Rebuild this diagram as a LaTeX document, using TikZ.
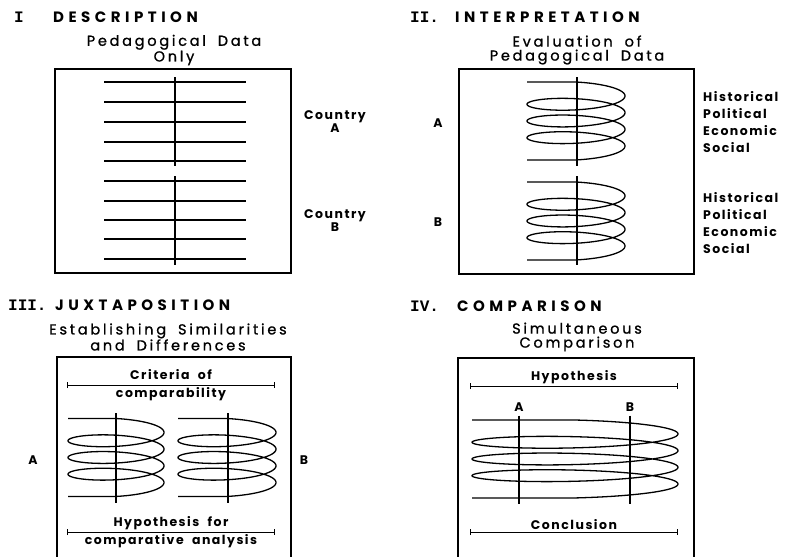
\documentclass[tikz,border=0pt]{standalone}
\usepackage{fontspec}
\setmainfont{Poppins}
\newfontfamily\numfont{Liberation Mono}
\newfontfamily\headfont[LetterSpace=30]{Poppins}
\newfontfamily\subfont[LetterSpace=19,WordSpace=1.8,FakeBold=1]{Poppins}
\newfontfamily\letfont[LetterSpace=12,WordSpace=2]{Poppins}
\usetikzlibrary{arrows.meta,positioning}

% helix: centre x, top line y, radius
\newcommand{\drawcoil}[3]{%
  \pgfmathsetmacro{\cyo}{#2-0.75*16.7+9.75}
  \draw[coil] (#1-#3,#2) -- (#1,#2)
    -- plot[domain=1.5*pi:8.5*pi, samples=300, variable=\t]
       ({#1+#3*cos(\t r)}, {\cyo+16.7*\t/(2*pi)+9.75*sin(\t r)})
    -- ++(-#3,0);
}

\begin{document}
\begin{tikzpicture}[
    x=1pt, y=-1pt,
    frame/.style={line width=1.6pt},
    rule/.style={line width=1.3pt},
    post/.style={line width=1.8pt},
    coil/.style={line width=1.3pt, line join=round},
    dim/.style={line width=1pt, {Bar[width=6pt]}-{Bar[width=6pt]}},
    num/.style={font=\numfont\bfseries\fontsize{16}{16}\selectfont, anchor=west, inner sep=0pt},
    title/.style={font=\headfont\bfseries\fontsize{15}{16}\selectfont, anchor=west, inner sep=0pt},
    sub/.style={font=\subfont\fontsize{14.5}{14}\selectfont, align=center, inner sep=0pt},
    tag/.style={font=\letfont\bfseries\fontsize{12.5}{12}\selectfont, align=center, inner sep=0pt},
    factor/.style={font=\letfont\bfseries\fontsize{12.5}{16.7}\selectfont, align=left, anchor=west, inner sep=0pt}
]
\useasboundingbox (0,0) rectangle (785,557);

% I. Description
\node[num] (n1) at (14,17) {I};
\node[title] (t1) at (53,17) {DESCRIPTION};
\node[sub] (s1) at (174,50) {Pedagogical Data\\Only};
\draw[frame] (55,69) rectangle (291,273);
\foreach \y in {82,102,122,142,161,181,201,220,239,259}
    \draw[rule] (104,\y) -- (246,\y);
\draw[post] (175,77) -- (175,166);
\draw[post] (175,176) -- (175,265);
\node[tag] (ca) at (335,122) {Country\\A};
\node[tag] (cb) at (335,221) {Country\\B};

% II. Interpretation
\node[num] (n2) at (410,17) {II.};
\node[title] (t2) at (455,17) {INTERPRETATION};
\node[sub] (s2) at (577,50) {Evaluation of\\Pedagogical Data};
\draw[frame] (459,69) rectangle (694,274);
\drawcoil{576}{82}{49}
\drawcoil{576}{182}{49}
\draw[post] (577,77) -- (577,166);
\draw[post] (577,176) -- (577,265);
\node[tag] (ia) at (438,123) {A};
\node[tag] (ib) at (438,222) {B};
\node[factor] (fa) at (703,122) {Historical\\Political\\Economic\\Social};
\node[factor] (fb) at (703,223) {Historical\\Political\\Economic\\Social};

% III. Juxtaposition
\node[num] (n3) at (8,305) {III.};
\node[title] (t3) at (55,305) {JUXTAPOSITION};
\node[sub] (s3) at (168,337) {Establishing Similarities\\and Differences};
\draw[frame] (57,557) -- (57,357) -- (291,357) -- (291,557);
\node[tag] (crit) at (171,375) {Criteria of};
\node[tag] (comp) at (171,394) {comparability};
\coordinate (cl) at (67,385);
\coordinate (cr) at (275,385);
\draw[dim] (cl) -- (cr);
\drawcoil{116}{418.5}{48}
\drawcoil{227}{418.5}{49}
\draw[post] (116,413) -- (116,503);
\draw[post] (228,413) -- (228,503);
\node[tag] (ja) at (33,460) {A};
\node[tag] (jb) at (304,460) {B};
\node[tag] (hyp) at (171,523) {Hypothesis for};
\node[tag] (ana) at (171,541) {comparative analysis};
\coordinate (hl) at (67,532);
\coordinate (hr) at (275,532);
\draw[dim] (hl) -- (hr);

% IV. Comparison
\node[num] (n4) at (410,306) {IV.};
\node[title] (t4) at (457,306) {COMPARISON};
\node[sub] (s4) at (577,337) {Simultaneous\\Comparison};
\draw[frame] (458,557) -- (458,358) -- (694,358) -- (694,557);
\node[tag] (hy) at (574,377) {Hypothesis};
\coordinate (yl) at (470,386);
\coordinate (yr) at (678,386);
\draw[dim] (yl) -- (yr);
\node[tag] (ka) at (519,407) {A};
\node[tag] (kb) at (630,407) {B};
\drawcoil{575}{420}{103}
\draw[post] (ka.south) ++(0,4) -- (519,504);
\draw[post] (kb.south) ++(0,4) -- (630,504);
\node[tag] (conc) at (574,525) {Conclusion};
\coordinate (ol) at (470,532);
\coordinate (or) at (678,532);
\draw[dim] (ol) -- (or);

\end{tikzpicture}
\end{document}
